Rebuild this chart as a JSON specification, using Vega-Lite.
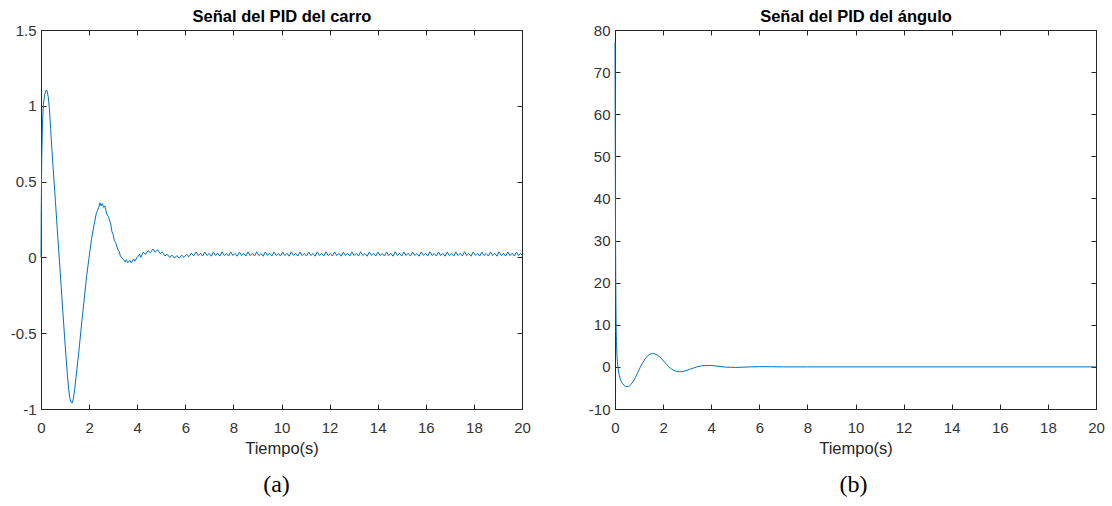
{
  "$schema": "https://vega.github.io/schema/vega-lite/v6.json",
  "background": "white",
  "padding": {"left": 9, "top": 8, "right": 5, "bottom": 5},
  "spacing": 56,
  "config": {
    "view": {"stroke": "#262626", "strokeWidth": 1},
    "axis": {
      "grid": false,
      "domainColor": "#262626",
      "tickColor": "#262626",
      "tickSize": -5,
      "labelColor": "#333333",
      "labelFont": "Liberation Sans",
      "labelFontSize": 15,
      "titleFont": "Liberation Sans",
      "titleFontSize": 16.5,
      "titleFontWeight": "normal",
      "titleColor": "#262626"
    },
    "title": {"font": "Liberation Serif", "fontSize": 24, "fontWeight": "normal", "color": "#000000"}
  },
  "datasets": {
    "carro": [
      {"t": 0, "v": 0}, {"t": 0.01, "v": 0.3}, {"t": 0.03, "v": 0.65}, {"t": 0.06, "v": 0.88}, {"t": 0.1, "v": 1.01},
      {"t": 0.15, "v": 1.07}, {"t": 0.2, "v": 1.1}, {"t": 0.25, "v": 1.1}, {"t": 0.3, "v": 1.06}, {"t": 0.35, "v": 0.98},
      {"t": 0.4, "v": 0.85}, {"t": 0.45, "v": 0.72}, {"t": 0.5, "v": 0.6}, {"t": 0.6, "v": 0.37}, {"t": 0.7, "v": 0.13},
      {"t": 0.8, "v": -0.1}, {"t": 0.9, "v": -0.34}, {"t": 1.0, "v": -0.57}, {"t": 1.1, "v": -0.78}, {"t": 1.15, "v": -0.87},
      {"t": 1.2, "v": -0.93}, {"t": 1.25, "v": -0.955}, {"t": 1.3, "v": -0.96}, {"t": 1.35, "v": -0.93}, {"t": 1.4, "v": -0.87},
      {"t": 1.5, "v": -0.73}, {"t": 1.6, "v": -0.58}, {"t": 1.7, "v": -0.42}, {"t": 1.8, "v": -0.27}, {"t": 1.9, "v": -0.12},
      {"t": 2.0, "v": 0.0}, {"t": 2.1, "v": 0.12}, {"t": 2.2, "v": 0.21}, {"t": 2.3, "v": 0.29}, {"t": 2.35, "v": 0.31},
      {"t": 2.4, "v": 0.33}, {"t": 2.45, "v": 0.36}, {"t": 2.5, "v": 0.34}, {"t": 2.55, "v": 0.355}, {"t": 2.6, "v": 0.33},
      {"t": 2.65, "v": 0.34}, {"t": 2.7, "v": 0.31}, {"t": 2.75, "v": 0.28}, {"t": 2.8, "v": 0.27}, {"t": 2.9, "v": 0.22},
      {"t": 2.95, "v": 0.17}, {"t": 3.0, "v": 0.15}, {"t": 3.05, "v": 0.11}, {"t": 3.1, "v": 0.1}, {"t": 3.2, "v": 0.05},
      {"t": 3.25, "v": 0.04}, {"t": 3.3, "v": 0.01}, {"t": 3.4, "v": -0.01}, {"t": 3.5, "v": -0.03}, {"t": 3.55, "v": -0.015},
      {"t": 3.6, "v": -0.035}, {"t": 3.7, "v": -0.02}, {"t": 3.75, "v": -0.035}, {"t": 3.85, "v": -0.01}, {"t": 3.9, "v": -0.025},
      {"t": 4.0, "v": 0.0}, {"t": 4.1, "v": 0.02}, {"t": 4.15, "v": 0.0}, {"t": 4.25, "v": 0.035}, {"t": 4.35, "v": 0.02},
      {"t": 4.45, "v": 0.045}, {"t": 4.55, "v": 0.03}, {"t": 4.65, "v": 0.055}, {"t": 4.75, "v": 0.035}, {"t": 4.85, "v": 0.05},
      {"t": 4.95, "v": 0.025}, {"t": 5.05, "v": 0.035}, {"t": 5.15, "v": 0.01}, {"t": 5.25, "v": 0.02}, {"t": 5.35, "v": 0.0},
      {"t": 5.45, "v": 0.015}, {"t": 5.55, "v": -0.005}, {"t": 5.65, "v": 0.012}, {"t": 5.75, "v": -0.005}, {"t": 5.85, "v": 0.015},
      {"t": 5.95, "v": 0.0}, {"t": 6.05, "v": 0.02}, {"t": 6.15, "v": 0.005}, {"t": 6.25, "v": 0.028}, {"t": 6.35, "v": 0.01},
      {"t": 6.45, "v": 0.036}, {"t": 6.54, "v": 0.012}, {"t": 6.63, "v": 0.027}, {"t": 6.72, "v": 0.009},
      {"t": 6.81, "v": 0.035}, {"t": 6.9, "v": 0.012}, {"t": 6.99, "v": 0.026}, {"t": 7.08, "v": 0.008},
      {"t": 7.17, "v": 0.036}, {"t": 7.26, "v": 0.013}, {"t": 7.35, "v": 0.027}, {"t": 7.44, "v": 0.009},
      {"t": 7.53, "v": 0.037}, {"t": 7.62, "v": 0.012}, {"t": 7.71, "v": 0.026}, {"t": 7.8, "v": 0.009},
      {"t": 7.89, "v": 0.036}, {"t": 7.98, "v": 0.012}, {"t": 8.07, "v": 0.027}, {"t": 8.16, "v": 0.008},
      {"t": 8.25, "v": 0.035}, {"t": 8.34, "v": 0.013}, {"t": 8.43, "v": 0.026}, {"t": 8.52, "v": 0.009},
      {"t": 8.61, "v": 0.036}, {"t": 8.7, "v": 0.012}, {"t": 8.79, "v": 0.027}, {"t": 8.88, "v": 0.009},
      {"t": 8.97, "v": 0.037}, {"t": 9.06, "v": 0.012}, {"t": 9.15, "v": 0.026}, {"t": 9.24, "v": 0.008},
      {"t": 9.33, "v": 0.036}, {"t": 9.42, "v": 0.013}, {"t": 9.51, "v": 0.027}, {"t": 9.6, "v": 0.009},
      {"t": 9.69, "v": 0.035}, {"t": 9.78, "v": 0.012}, {"t": 9.87, "v": 0.026}, {"t": 9.96, "v": 0.009},
      {"t": 10.05, "v": 0.036}, {"t": 10.14, "v": 0.012}, {"t": 10.23, "v": 0.027}, {"t": 10.32, "v": 0.008},
      {"t": 10.41, "v": 0.037}, {"t": 10.5, "v": 0.013}, {"t": 10.59, "v": 0.026}, {"t": 10.68, "v": 0.009},
      {"t": 10.77, "v": 0.036}, {"t": 10.86, "v": 0.012}, {"t": 10.95, "v": 0.027}, {"t": 11.04, "v": 0.009},
      {"t": 11.13, "v": 0.035}, {"t": 11.22, "v": 0.012}, {"t": 11.31, "v": 0.026}, {"t": 11.4, "v": 0.008},
      {"t": 11.49, "v": 0.036}, {"t": 11.58, "v": 0.013}, {"t": 11.67, "v": 0.027}, {"t": 11.76, "v": 0.009},
      {"t": 11.85, "v": 0.037}, {"t": 11.94, "v": 0.012}, {"t": 12.03, "v": 0.026}, {"t": 12.12, "v": 0.009},
      {"t": 12.21, "v": 0.036}, {"t": 12.3, "v": 0.012}, {"t": 12.39, "v": 0.027}, {"t": 12.48, "v": 0.008},
      {"t": 12.57, "v": 0.035}, {"t": 12.66, "v": 0.013}, {"t": 12.75, "v": 0.026}, {"t": 12.84, "v": 0.009},
      {"t": 12.93, "v": 0.036}, {"t": 13.02, "v": 0.012}, {"t": 13.11, "v": 0.027}, {"t": 13.2, "v": 0.009},
      {"t": 13.29, "v": 0.037}, {"t": 13.38, "v": 0.012}, {"t": 13.47, "v": 0.026}, {"t": 13.56, "v": 0.008},
      {"t": 13.65, "v": 0.036}, {"t": 13.74, "v": 0.013}, {"t": 13.83, "v": 0.027}, {"t": 13.92, "v": 0.009},
      {"t": 14.01, "v": 0.035}, {"t": 14.1, "v": 0.012}, {"t": 14.19, "v": 0.026}, {"t": 14.28, "v": 0.009},
      {"t": 14.37, "v": 0.036}, {"t": 14.46, "v": 0.012}, {"t": 14.55, "v": 0.027}, {"t": 14.64, "v": 0.008},
      {"t": 14.73, "v": 0.037}, {"t": 14.82, "v": 0.013}, {"t": 14.91, "v": 0.026}, {"t": 15.0, "v": 0.009},
      {"t": 15.09, "v": 0.036}, {"t": 15.18, "v": 0.012}, {"t": 15.27, "v": 0.027}, {"t": 15.36, "v": 0.009},
      {"t": 15.45, "v": 0.035}, {"t": 15.54, "v": 0.012}, {"t": 15.63, "v": 0.026}, {"t": 15.72, "v": 0.008},
      {"t": 15.81, "v": 0.036}, {"t": 15.9, "v": 0.013}, {"t": 15.99, "v": 0.027}, {"t": 16.08, "v": 0.009},
      {"t": 16.17, "v": 0.037}, {"t": 16.26, "v": 0.012}, {"t": 16.35, "v": 0.026}, {"t": 16.44, "v": 0.009},
      {"t": 16.53, "v": 0.036}, {"t": 16.62, "v": 0.012}, {"t": 16.71, "v": 0.027}, {"t": 16.8, "v": 0.008},
      {"t": 16.89, "v": 0.035}, {"t": 16.98, "v": 0.013}, {"t": 17.07, "v": 0.026}, {"t": 17.16, "v": 0.009},
      {"t": 17.25, "v": 0.036}, {"t": 17.34, "v": 0.012}, {"t": 17.43, "v": 0.027}, {"t": 17.52, "v": 0.009},
      {"t": 17.61, "v": 0.037}, {"t": 17.7, "v": 0.012}, {"t": 17.79, "v": 0.026}, {"t": 17.88, "v": 0.008},
      {"t": 17.97, "v": 0.036}, {"t": 18.06, "v": 0.013}, {"t": 18.15, "v": 0.027}, {"t": 18.24, "v": 0.009},
      {"t": 18.33, "v": 0.035}, {"t": 18.42, "v": 0.012}, {"t": 18.51, "v": 0.026}, {"t": 18.6, "v": 0.009},
      {"t": 18.69, "v": 0.036}, {"t": 18.78, "v": 0.012}, {"t": 18.87, "v": 0.027}, {"t": 18.96, "v": 0.008},
      {"t": 19.05, "v": 0.037}, {"t": 19.14, "v": 0.013}, {"t": 19.23, "v": 0.026}, {"t": 19.32, "v": 0.009},
      {"t": 19.41, "v": 0.036}, {"t": 19.5, "v": 0.012}, {"t": 19.59, "v": 0.027}, {"t": 19.68, "v": 0.009},
      {"t": 19.77, "v": 0.035}, {"t": 19.86, "v": 0.012}, {"t": 19.95, "v": 0.026}, {"t": 20.0, "v": 0.015}
    ],
    "angulo": [
      {"t": 0, "v": 77}, {"t": 0.01, "v": 55}, {"t": 0.02, "v": 35}, {"t": 0.03, "v": 22}, {"t": 0.04, "v": 14},
      {"t": 0.05, "v": 9}, {"t": 0.06, "v": 6}, {"t": 0.08, "v": 3}, {"t": 0.1, "v": 1.2}, {"t": 0.13, "v": -0.5},
      {"t": 0.17, "v": -1.8}, {"t": 0.22, "v": -2.9}, {"t": 0.3, "v": -3.9}, {"t": 0.4, "v": -4.5}, {"t": 0.5, "v": -4.7},
      {"t": 0.58, "v": -4.6}, {"t": 0.66, "v": -4.2}, {"t": 0.75, "v": -3.5}, {"t": 0.85, "v": -2.5}, {"t": 0.95, "v": -1.3},
      {"t": 1.05, "v": -0.1}, {"t": 1.15, "v": 1.0}, {"t": 1.25, "v": 1.9}, {"t": 1.35, "v": 2.6}, {"t": 1.45, "v": 3.0},
      {"t": 1.55, "v": 3.15}, {"t": 1.65, "v": 3.1}, {"t": 1.75, "v": 2.85}, {"t": 1.85, "v": 2.4}, {"t": 1.95, "v": 1.85},
      {"t": 2.05, "v": 1.2}, {"t": 2.15, "v": 0.55}, {"t": 2.25, "v": -0.05}, {"t": 2.35, "v": -0.5}, {"t": 2.45, "v": -0.85},
      {"t": 2.55, "v": -1.05}, {"t": 2.65, "v": -1.15}, {"t": 2.75, "v": -1.15}, {"t": 2.85, "v": -1.05}, {"t": 2.95, "v": -0.9},
      {"t": 3.1, "v": -0.6}, {"t": 3.25, "v": -0.3}, {"t": 3.4, "v": 0.0}, {"t": 3.55, "v": 0.2}, {"t": 3.7, "v": 0.32},
      {"t": 3.85, "v": 0.36}, {"t": 4.0, "v": 0.33}, {"t": 4.2, "v": 0.22}, {"t": 4.4, "v": 0.08}, {"t": 4.6, "v": -0.05},
      {"t": 4.8, "v": -0.1}, {"t": 5.0, "v": -0.12}, {"t": 5.3, "v": -0.08}, {"t": 5.6, "v": 0.0}, {"t": 6.0, "v": 0.05},
      {"t": 6.5, "v": 0.04}, {"t": 7.0, "v": 0.0}, {"t": 8.0, "v": 0.0}, {"t": 20.0, "v": 0.0}
    ]
  },
  "hconcat": [
    {
      "width": 481,
      "height": 379,
      "data": {"name": "carro"},
      "title": {"text": "(a)", "orient": "bottom", "anchor": "middle", "offset": 16, "dx": -5},
      "layer": [
        {
          "mark": {"type": "line", "color": "#0072BD", "strokeWidth": 1},
          "encoding": {
            "x": {"field": "t", "type": "quantitative", "scale": {"domain": [0, 20], "nice": false, "zero": false},
                  "axis": {"orient": "bottom", "title": "Tiempo(s)", "values": [0, 2, 4, 6, 8, 10, 12, 14, 16, 18, 20], "labelPadding": 16, "titlePadding": 5, "labelFlush": false}},
            "y": {"field": "v", "type": "quantitative", "scale": {"domain": [-1, 1.5], "nice": false, "zero": false},
                  "axis": {"orient": "left", "title": null, "values": [-1, -0.5, 0, 0.5, 1, 1.5], "labelPadding": 10, "labelFlush": false, "labelExpr": "replace(format(datum.value, ''), '\u2212', '-')"}}
          }
        },
        {
          "mark": {"type": "line", "opacity": 0},
          "encoding": {
            "x": {"field": "t", "type": "quantitative",
                  "axis": {"orient": "top", "title": "Señal del PID del carro", "titleFontWeight": "bold", "titleColor": "#000000", "labels": false, "values": [0, 2, 4, 6, 8, 10, 12, 14, 16, 18, 20], "titlePadding": 5}},
            "y": {"field": "v", "type": "quantitative",
                  "axis": {"orient": "right", "title": null, "labels": false, "values": [-1, -0.5, 0, 0.5, 1, 1.5]}}
          }
        }
      ],
      "resolve": {"axis": {"x": "independent", "y": "independent"}}
    },
    {
      "width": 481,
      "height": 379,
      "data": {"name": "angulo"},
      "title": {"text": "(b)", "orient": "bottom", "anchor": "middle", "offset": 16, "dx": -2},
      "layer": [
        {
          "mark": {"type": "line", "color": "#0072BD", "strokeWidth": 1},
          "encoding": {
            "x": {"field": "t", "type": "quantitative", "scale": {"domain": [0, 20], "nice": false, "zero": false},
                  "axis": {"orient": "bottom", "title": "Tiempo(s)", "values": [0, 2, 4, 6, 8, 10, 12, 14, 16, 18, 20], "labelPadding": 16, "titlePadding": 5, "labelFlush": false}},
            "y": {"field": "v", "type": "quantitative", "scale": {"domain": [-10, 80], "nice": false, "zero": false},
                  "axis": {"orient": "left", "title": null, "values": [-10, 0, 10, 20, 30, 40, 50, 60, 70, 80], "labelPadding": 10, "labelFlush": false, "labelExpr": "replace(format(datum.value, ''), '\u2212', '-')"}}
          }
        },
        {
          "mark": {"type": "line", "opacity": 0},
          "encoding": {
            "x": {"field": "t", "type": "quantitative",
                  "axis": {"orient": "top", "title": "Señal del PID del ángulo", "titleFontWeight": "bold", "titleColor": "#000000", "labels": false, "values": [0, 2, 4, 6, 8, 10, 12, 14, 16, 18, 20], "titlePadding": 5}},
            "y": {"field": "v", "type": "quantitative",
                  "axis": {"orient": "right", "title": null, "labels": false, "values": [-10, 0, 10, 20, 30, 40, 50, 60, 70, 80]}}
          }
        }
      ],
      "resolve": {"axis": {"x": "independent", "y": "independent"}}
    }
  ]
}
